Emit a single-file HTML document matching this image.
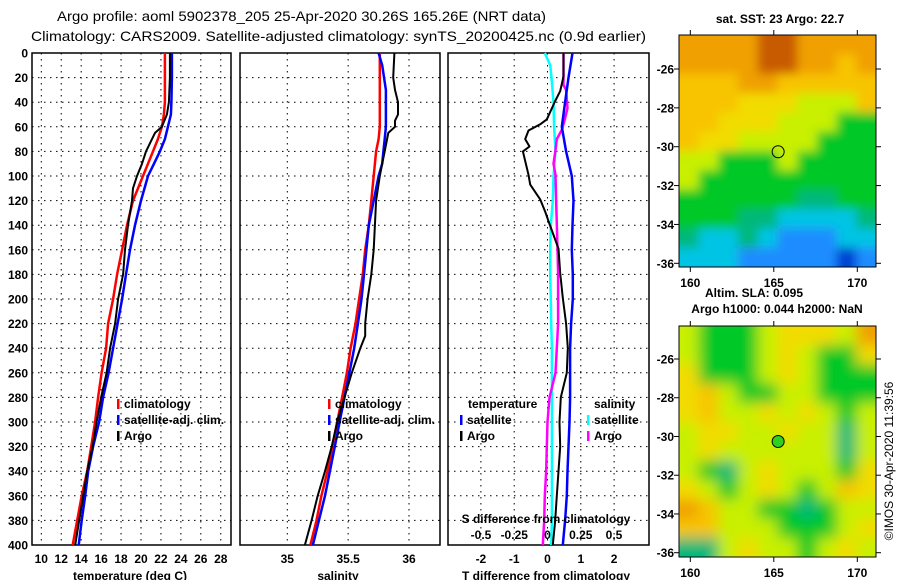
<!DOCTYPE html>
<html><head><meta charset="utf-8"><style>
html,body{margin:0;padding:0;background:#fff;}
svg{display:block;font-family:"Liberation Sans",sans-serif;}
.t{font-size:12px;font-weight:bold;fill:#000;}
.g{stroke:#000;stroke-width:1;stroke-dasharray:1.5,4.5;}
.f{fill:none;stroke:#000;stroke-width:1.5;}
</style></head><body>
<svg id="svg" width="900" height="580" viewBox="0 0 900 580">
<text x="57" y="21" font-size="14" textLength="489" lengthAdjust="spacingAndGlyphs">Argo profile: aoml 5902378_205 25-Apr-2020 30.26S 165.26E (NRT data)</text>
<text x="31" y="41" font-size="14" textLength="615" lengthAdjust="spacingAndGlyphs">Climatology: CARS2009. Satellite-adjusted climatology: synTS_20200425.nc (0.9d earlier)</text>
<g id="p1"></g>
<g id="p2"></g>
<g id="p3"></g>
<g id="m1"></g>
<g id="m2"></g>
<text class="t" x="780" y="23" text-anchor="middle">sat. SST: 23 Argo: 22.7</text>
<text class="t" x="754" y="297" text-anchor="middle">Altim. SLA: 0.095</text>
<text class="t" x="777" y="313" text-anchor="middle">Argo h1000: 0.044 h2000: NaN</text>
<text x="893" y="461" font-size="12" text-anchor="middle" transform="rotate(-90 893 461)">©IMOS 30-Apr-2020 11:39:56</text>
</svg>
<script>
// ---- data ----
const depthTicks=[0,20,40,60,80,100,120,140,160,180,200,220,240,260,280,300,320,340,360,380,400];
const tempTicks=[10,12,14,16,18,20,22,24,26,28];
const salTicks=[35,35.5,36];
const salTickLabels=["35","35.5","36"];
const tdTicks=[-2,-1,0,1,2];
const sdTicks=[-0.5,-0.25,0,0.25,0.5];
const sdTickLabels=["-0.5","-0.25","0","0.25","0.5"];

const tDepth=[0,20,40,50,60,70,80,90,100,120,140,160,180,200,220,240,260,280,300,320,340,360,380,400];
const climT=[22.4,22.4,22.4,22.3,22.1,21.7,21.2,20.7,20.2,19.2,18.6,18.1,17.6,17.2,16.7,16.5,16.05,15.7,15.4,15.0,14.6,14.05,13.6,13.15];
const satT=[23.1,23.1,23.05,23.0,22.7,22.4,21.9,21.3,20.7,20.0,19.4,18.9,18.5,18.1,17.65,17.2,16.75,16.2,15.8,15.2,14.7,14.4,14.05,13.75];
const argoTDepth=[0,20,40,50,60,65,70,80,90,100,110,120,140,160,180,200,220,240,260,280,300,320,340,360,380,400];
const argoT=[22.9,22.9,22.8,22.6,22.1,21.4,21.1,20.5,20.1,19.6,19.2,19.1,18.7,18.4,18.2,17.7,17.4,16.9,16.55,16.0,15.55,15.15,14.6,14.2,13.8,13.4];

const sDepth=[0,10,30,60,70,80,90,100,120,140,160,180,200,220,240,260,280,300,320,340,360,380,400];
const climS=[35.76,35.76,35.76,35.76,35.75,35.73,35.72,35.71,35.69,35.67,35.64,35.62,35.59,35.56,35.52,35.49,35.45,35.41,35.37,35.33,35.28,35.24,35.19];
const satS=[35.75,35.78,35.81,35.81,35.80,35.79,35.78,35.75,35.71,35.67,35.65,35.63,35.61,35.58,35.55,35.51,35.47,35.43,35.39,35.35,35.31,35.26,35.21];
const argoSDepth=[0,20,30,40,50,55,60,65,70,80,90,100,120,140,160,180,200,220,230,240,260,280,300,320,340,360,380,400];
const argoS=[35.88,35.87,35.885,35.91,35.91,35.885,35.885,35.83,35.82,35.80,35.78,35.76,35.73,35.72,35.71,35.69,35.66,35.64,35.64,35.60,35.53,35.47,35.41,35.365,35.31,35.25,35.20,35.145];

const diffDepth=[0,20,40,60,80,100,120,140,160,180,200,220,240,260,280,300,320,340,360,380,400];
const satTdiff=[0.75,0.63,0.53,0.43,0.56,0.73,0.78,0.75,0.73,0.76,0.76,0.71,0.68,0.68,0.68,0.66,0.63,0.60,0.58,0.53,0.46];
const argoTdiffDepth=[0,19,31,39,54,58,63,70,76,80,99,107,119,129,139,159,179,199,220,240,260,280,300,320,340,360,380,400];
const argoTdiff=[0.48,0.48,0.38,0.23,-0.02,-0.22,-0.57,-0.67,-0.54,-0.74,-0.57,-0.52,-0.22,-0.07,0.06,0.33,0.38,0.46,0.56,0.61,0.58,0.40,0.36,0.38,0.33,0.28,0.23,0.16];
const satSdiffDepth=[0,10,20,40,60,80,100,120,140,160,180,200,220,240,260,280,300,320,340,360,380,400];
const satSdiff=[-0.02,0.02,0.03,0.045,0.05,0.06,0.045,0.04,0.025,0.02,0.02,0.025,0.028,0.033,0.033,0.033,0.033,0.033,0.033,0.033,0.033,0.028];
const argoSdiffDepth=[0,26,30,45,54,62,70,79,90,99,119,139,159,179,199,220,240,260,280,300,320,340,360,380,400];
const argoSdiff=[0.12,0.12,0.14,0.15,0.13,0.11,0.07,0.06,0.045,0.06,0.065,0.07,0.075,0.08,0.08,0.08,0.07,0.06,0.015,0,-0.005,-0.01,-0.02,-0.025,-0.035];

const latTicks=[-26,-28,-30,-32,-34,-36];
const lonTicks=[160,165,170];
const argoLon=165.26, argoLat=-30.26;

// ---- scales ----
const Y0=53, Y1=545;
const yD=d=>Y0+d*(Y1-Y0)/400;
const xT=t=>41.3+(t-10)*9.97;
const xS=s=>287.3+(s-35)*121.7;
const xTd=v=>547.5+v*33.3;
const xSd=v=>547.5+v*133;
const NS='http://www.w3.org/2000/svg';
function mk(p,tag,at,txt){const e=document.createElementNS(NS,tag);for(const k in at)e.setAttribute(k,at[k]);if(txt!==undefined)e.textContent=txt;p.appendChild(e);return e;}
function line(p,xs,ds,xf,col,w,name){
  const pts=xs.map((v,i)=>xf(v).toFixed(1)+','+yD(ds[i]).toFixed(1)).join(' ');
  const e=mk(p,'polyline',{points:pts,fill:'none',stroke:col,'stroke-width':w,'stroke-linejoin':'round'});
  
  
}
function frame(p,x0,x1,vx,xf,name){
  depthTicks.forEach(d=>{if(d>0&&d<400){const g=mk(p,'line',{class:'g',x1:x0,x2:x1,y1:yD(d),y2:yD(d)});
    
    }});
  vx.forEach(v=>{const g=mk(p,'line',{class:'g',x1:xf(v),x2:xf(v),y1:Y0,y2:Y1});
    
    });
  const r=mk(p,'rect',{class:'f',x:x0,y:Y0,width:x1-x0,height:Y1-Y0});
  
  
}
function legend(p,x,y,col,txt,name){
  const m=mk(p,'rect',{x:x-1,y:y-9,width:2.5,height:10,fill:col});
  
  
  const t=mk(p,'text',{class:'t',x:x+6,y:y},txt);
  
  
}
// panel 1
const p1=document.getElementById('p1');
frame(p1,32,231,tempTicks,xT,'temperature-axes');
depthTicks.forEach(d=>{const t=mk(p1,'text',{class:'t',x:28,y:yD(d)+4.5,'text-anchor':'end'},String(d));
  
  });
tempTicks.forEach(v=>{const t=mk(p1,'text',{class:'t',x:xT(v),y:563,'text-anchor':'middle'},String(v));
  
  });
let tt=mk(p1,'text',{class:'t',x:130,y:580,'text-anchor':'middle'},'temperature (deg C)');


line(p1,climT,tDepth,xT,'#f00',2.5,'climatology-temperature-line');
line(p1,satT,tDepth,xT,'#00f',2.5,'satellite-temperature-line');
line(p1,argoT,argoTDepth,xT,'#000',2,'argo-temperature-line');
legend(p1,118,408,'#f00','climatology','legend-climatology');
legend(p1,118,424,'#00f','satellite-adj. clim.','legend-satellite');
legend(p1,118,440,'#000','Argo','legend-argo');
// panel 2
const p2=document.getElementById('p2');
frame(p2,240,440,salTicks,xS,'salinity-axes');
salTicks.forEach((v,i)=>{const t=mk(p2,'text',{class:'t',x:xS(v),y:563,'text-anchor':'middle'},salTickLabels[i]);
  
  });
tt=mk(p2,'text',{class:'t',x:338,y:580,'text-anchor':'middle'},'salinity');


line(p2,climS,sDepth,xS,'#f00',2.5,'climatology-salinity-line');
line(p2,satS,sDepth,xS,'#00f',2.5,'satellite-salinity-line');
line(p2,argoS,argoSDepth,xS,'#000',2,'argo-salinity-line');
legend(p2,329,408,'#f00','climatology','legend-climatology');
legend(p2,329,424,'#00f','satellite-adj. clim.','legend-satellite');
legend(p2,329,440,'#000','Argo','legend-argo');
// panel 3
const p3=document.getElementById('p3');
frame(p3,448,649,tdTicks,xTd,'difference-axes');
tdTicks.forEach(v=>{const t=mk(p3,'text',{class:'t',x:xTd(v),y:563,'text-anchor':'middle'},String(v));
  
  });
tt=mk(p3,'text',{class:'t',x:546,y:580,'text-anchor':'middle'},'T difference from climatology');


line(p3,satSdiff,satSdiffDepth,xSd,'#0ff',2.5,'satellite-salinity-diff-line');
line(p3,argoSdiff,argoSdiffDepth,xSd,'#f0f',2.5,'argo-salinity-diff-line');
line(p3,satTdiff,diffDepth,xTd,'#00f',2.5,'satellite-temperature-diff-line');
line(p3,argoTdiff,argoTdiffDepth,xTd,'#000',2,'argo-temperature-diff-line');
tt=mk(p3,'text',{class:'t',x:546,y:523,'text-anchor':'middle'},'S difference from climatology');


sdTicks.forEach((v,i)=>{const t=mk(p3,'text',{class:'t',x:xSd(v),y:539,'text-anchor':'middle'},sdTickLabels[i]);
  
  });
tt=mk(p3,'text',{class:'t',x:468,y:408},'temperature');


tt=mk(p3,'text',{class:'t',x:594,y:408},'salinity');


legend(p3,461,424,'#00f','satellite','legend-t-satellite');
legend(p3,461,440,'#000','Argo','legend-t-argo');
legend(p3,588,424,'#0ff','satellite','legend-s-satellite');
legend(p3,588,440,'#f0f','Argo','legend-s-argo');

// ---- maps ----
const pal={O:'#c85a00',o:'#f0a000',y:'#f8c400',Y:'#f2dc00',L:'#c8f000',G:'#00c828',T:'#00b87a',C:'#00c4e4',B:'#1a8cff',D:'#0040d0'};
const map1=["ooooOOoooo","ooooOOooyo","yyyooyyyyy","yyyYYYLLLy","yyYYYLLLGG","yYYLLLLGGG","LLGGGLGGGG","LGGGGGGGGG","GGGGGGTTGG","GGGTTCCCCT","TCCTCBBBCC","CCCBBBBBDB"];
const map2=["LGGGLYYYLo","LGGGLYLGGY","YGGGLYLGGG","YyLGGLLGGG","YyLLYLYLGL","LYYLLYLLTL","LYLLLLLLTL","LGTLYLLLGY","YLGLYLGLyY","oyLLGGTGLL","yyLLLGGGLY","TTLYLLGLYL"];
function drawMap(id,grid,x0,y0,x1,y1,yTop,yBot,blur,fillCircle){
  const g=document.getElementById(id);
  const lonX=lon=>690.3+(lon-160)*16.7;
  const latY=lat=>yTop+(-26-lat)*(yBot-yTop)/10;
  const defs=mk(g,'defs',{});
  const cp=mk(defs,'clipPath',{id:id+'c'});mk(cp,'rect',{x:x0,y:y0,width:x1-x0,height:y1-y0});
  const fl=mk(defs,'filter',{id:id+'f',x:'-10%',y:'-10%',width:'120%',height:'120%'});mk(fl,'feGaussianBlur',{stdDeviation:blur});
  const cg=mk(g,'g',{'clip-path':'url(#'+id+'c)'});
  const img=mk(cg,'g',{filter:'url(#'+id+'f)'});
  
  
  const cw=(x1-x0)/10,ch=(y1-y0)/12;
  grid.forEach((row,r)=>{[...row].forEach((c,k)=>{
    const xx=x0+k*cw-(k==0?12:0),yy=y0+r*ch-(r==0?12:0);
    const ww=cw+1+(k==0||k==9?12:0),hh=ch+1+(r==0||r==11?12:0);
    mk(img,'rect',{x:xx,y:yy,width:ww,height:hh,fill:pal[c]});});});
  const fr=mk(g,'rect',{x:x0,y:y0,width:x1-x0,height:y1-y0,fill:'none',stroke:'#000','stroke-width':1});
  
  
  latTicks.forEach(l=>{const y=latY(l);
    mk(g,'line',{x1:x0-5,x2:x0,y1:y,y2:y,stroke:'#000'});mk(g,'line',{x1:x1,x2:x1+5,y1:y,y2:y,stroke:'#000'});
    const t=mk(g,'text',{class:'t',x:x0-5,y:y+4.5,'text-anchor':'end'},String(l));
    
    });
  lonTicks.forEach(l=>{const x=lonX(l);
    mk(g,'line',{x1:x,x2:x,y1:y0-5,y2:y0,stroke:'#000'});mk(g,'line',{x1:x,x2:x,y1:y1,y2:y1+5,stroke:'#000'});
    const t=mk(g,'text',{class:'t',x:x,y:y1+20,'text-anchor':'middle'},String(l));
    
    });
  const c=mk(g,'circle',{cx:lonX(argoLon),cy:latY(argoLat),r:6,fill:fillCircle,stroke:'#000','stroke-width':1});
  
  
}
drawMap('m1',map1,679,35,876,267,69,263.3,5,'none');
drawMap('m2',map2,679,326,876,557,359,552.7,7,'#30d020');
</script>
</body></html>
